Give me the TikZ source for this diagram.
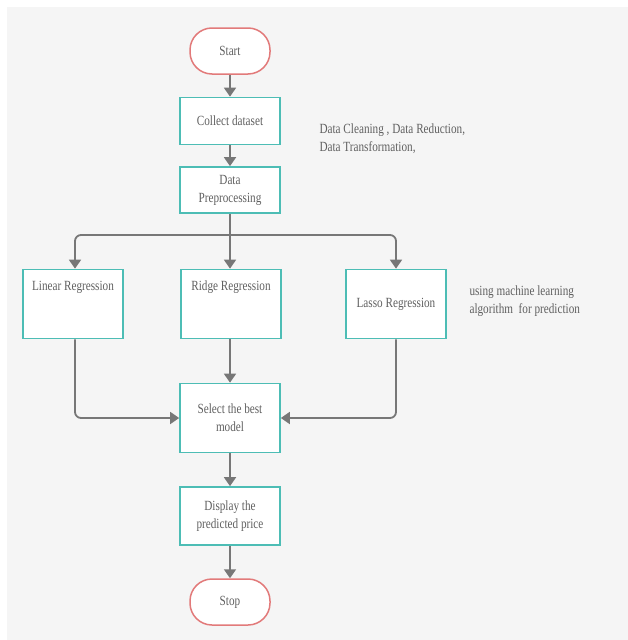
\documentclass[tikz,border=0pt]{standalone}
\usepackage{fontspec}
\setmainfont{Liberation Serif}[FakeStretch=0.8]
\usepackage{tikz}
\usetikzlibrary{arrows.meta}
\definecolor{bgray}{HTML}{F5F5F5}
\definecolor{boxteal}{HTML}{4DBDB5}
\definecolor{termred}{HTML}{E27A7A}
\definecolor{txtgray}{HTML}{606060}
\definecolor{arrgray}{HTML}{777777}

\begin{document}
\begin{tikzpicture}[x=1pt,y=-1pt,
	font=\fontsize{14}{18}\selectfont,
	box/.style={shape=rectangle,draw=boxteal,line width=1.7pt,fill=white,text=txtgray,
		minimum width=100pt,align=center},
	term/.style={shape=rectangle,rounded corners=22pt,draw=termred,line width=1.5pt,fill=white,
		text=txtgray,minimum width=80pt,minimum height=46pt},
	note/.style={text=txtgray,align=left,anchor=west},
	flow/.style={draw=arrgray,line width=1.8pt,-{Triangle[length=9pt,width=12pt]},rounded corners=6pt}]

	\useasboundingbox (0,0) rectangle (628,640);
	\fill[bgray] (7,7) rectangle (628,640);

	\node[term] (start) at (230, 51)  {Start};
	\node[box,minimum height=47pt] (collect) at (230, 121) {Collect dataset};
	\node[box,minimum height=46pt] (prep) at (230, 190) {Data\\Preprocessing};

	\node[box,minimum height=69pt,text depth=36pt] (linear) at (73, 304) {Linear Regression};
	\node[box,minimum height=69pt,text depth=36pt] (ridge) at (231, 304) {Ridge Regression};
	\node[box,minimum height=69pt] (lasso) at (396, 304) {Lasso Regression};

	\node[box,minimum height=69pt] (best) at (230, 418) {Select the best\\model};
	\node[box,minimum height=58pt] (display) at (230, 516) {Display the\\predicted price};
	\node[term] (stop) at (230, 602) {Stop};

	\node[note] (prepnote) at (316, 139) {Data Cleaning , Data Reduction,\\Data Transformation,};
	\node[note] (algnote) at (466, 301) {using machine learning\\algorithm\ \ for prediction};

	\coordinate (split) at (230, 235);

	\path[flow] (start) -- (collect);
	\path[flow] (collect) -- (prep);
	\draw[draw=arrgray,line width=1.8pt] (prep) -- (split);
	\path[flow] (split) -| (linear.north -| 75,0);
	\path[flow] (split) -- (split |- ridge.north);
	\path[flow] (split) -| (lasso);

	\path[flow] (linear.south -| 75,0) |- (best);
	\path[flow] (best.north |- ridge.south) -- (best);
	\path[flow] (lasso) |- (best);
	\path[flow] (best) -- (display);
	\path[flow] (display) -- (stop);

\end{tikzpicture}
\end{document}
